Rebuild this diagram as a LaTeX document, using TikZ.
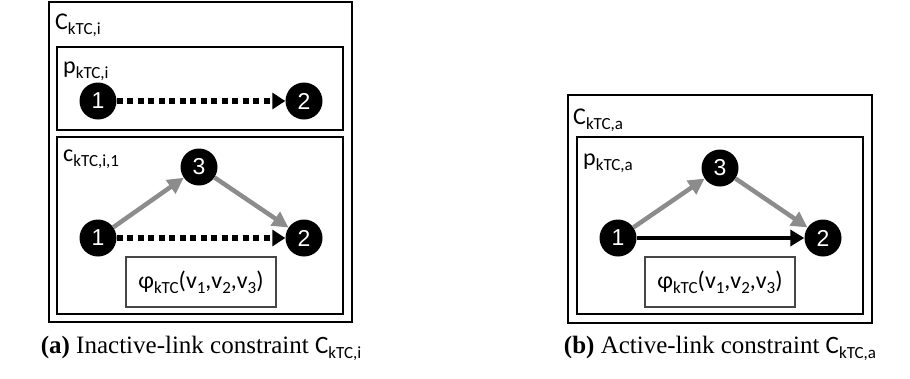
\documentclass[tikz,border=0pt]{standalone}
\usepackage{fontspec}
\usetikzlibrary{arrows.meta}
\newfontfamily\calfont{Carlito}
\newfontfamily\arialfont{Liberation Sans}
\newfontfamily\capfont{Liberation Serif}
\newcommand\lowtext[1]{\raisebox{-0.22em}{\fontsize{17}{17}\selectfont #1}}
\definecolor{edgegray}{RGB}{140,140,140}
\definecolor{formulaline}{RGB}{70,70,70}

\tikzset{
  vtx/.style={circle,fill=black,inner sep=0pt,minimum size=37pt,text=white,
    font=\arialfont\fontsize{23}{23}\selectfont},
  frame/.style={draw=black,line width=2.2pt},
  formula/.style={draw=formulaline,line width=1.1pt,minimum width=150pt,minimum height=50pt,
    inner sep=0pt,font=\calfont\fontsize{24}{24}\selectfont},
  lbl/.style={anchor=base west,inner sep=0pt,font=\calfont\fontsize{24}{24}\selectfont},
  inactive/.style={draw=black,line width=5.5pt,dash pattern=on 6pt off 4.5pt,
    -{Triangle[length=13pt,width=16pt]}},
  active/.style={draw=black,line width=4.5pt,-{Triangle[length=14pt,width=16pt]}},
  side/.style={draw=edgegray,line width=4.5pt,-{Triangle[length=16pt,width=16pt]}},
  caption/.style={anchor=base,inner sep=0pt,font=\capfont\fontsize{25}{25}\selectfont},
}

\begin{document}
\begin{tikzpicture}[x=1pt,y=-1pt]
  \useasboundingbox (0,0) rectangle (910,378);

  % ---------- (a) inactive-link constraint ----------
  \draw[frame] (49,2) rectangle (352,322);
  \draw[frame] (57,47) rectangle (343,130);
  \draw[frame] (57,137) rectangle (343,314);
  \node[lbl] (Cai) at (55,29) {C\lowtext{kTC,i}};
  \node[lbl] (pai) at (63,73) {p\lowtext{kTC,i}};
  \node[lbl] (cai) at (63,161) {c\lowtext{kTC,i,1}};

  % pattern
  \node[vtx] (pa1) at (98,101) {1};
  \node[vtx] (pa2) at (304,101) {2};
  \draw[inactive] (pa1) -- (pa2);

  % condition
  \node[vtx] (ca3) at (199,167) {3};
  \node[vtx] (ca1) at (98,238) {1};
  \node[vtx] (ca2) at (304,238) {2};
  \draw[side] (ca1) -- (ca3);
  \draw[side] (ca3) -- (ca2);
  \draw[inactive] (ca1) -- (ca2);
  \node[formula] (fa) at (201,282) {φ\lowtext{kTC}(v\lowtext{1},v\lowtext{2},v\lowtext{3})};

  \node[caption] (capa) at (201,353) {\textbf{(a)} Inactive-link constraint {\calfont C\lowtext{kTC,i}}};

  % ---------- (b) active-link constraint ----------
  \draw[frame] (568,95) rectangle (872,323);
  \draw[frame] (577,137) rectangle (863,314);
  \node[lbl] (Cba) at (573,124) {C\lowtext{kTC,a}};
  \node[lbl] (pba) at (583,165) {p\lowtext{kTC,a}};

  \node[vtx] (pb3) at (720,168) {3};
  \node[vtx] (pb1) at (618,238) {1};
  \node[vtx] (pb2) at (823,238) {2};
  \draw[side] (pb1) -- (pb3);
  \draw[side] (pb3) -- (pb2);
  \draw[active] (pb1) -- (pb2);
  \node[formula] (fb) at (720,282) {φ\lowtext{kTC}(v\lowtext{1},v\lowtext{2},v\lowtext{3})};

  \node[caption] (capb) at (720,353) {\textbf{(b)} Active-link constraint {\calfont C\lowtext{kTC,a}}};
\end{tikzpicture}
\end{document}
